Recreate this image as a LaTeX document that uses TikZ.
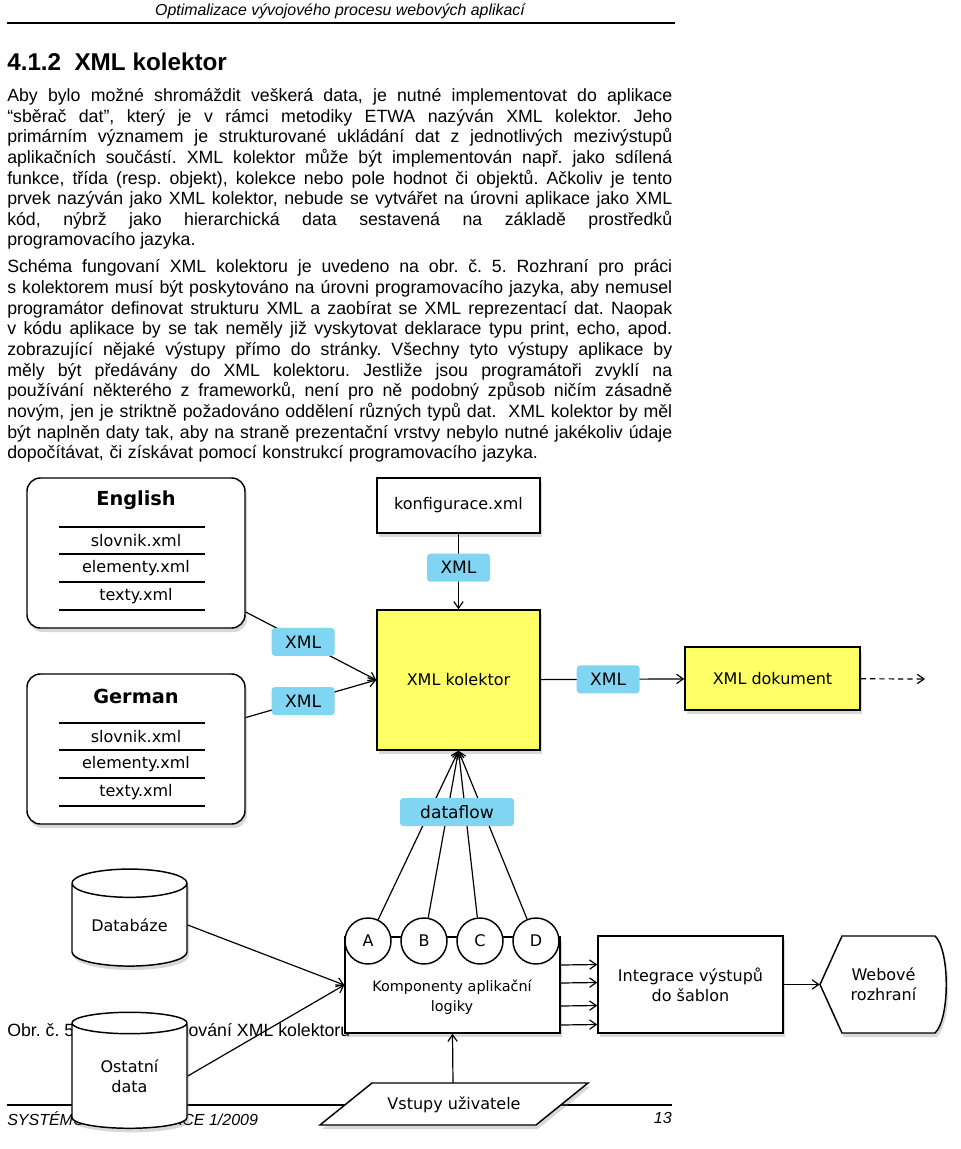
\documentclass[tikz,border=0pt]{standalone}
\usepackage{fontspec}
\setmainfont{Liberation Sans}
\newfontfamily\diafont{DejaVu Sans}
\usetikzlibrary{arrows.meta,positioning,shapes.geometric,shadows}
\definecolor{xmlblue}{RGB}{128,214,242}
\definecolor{kolyellow}{RGB}{255,255,102}
\newlength\pxu \setlength\pxu{0.75pt}
\newlength\colw \setlength\colw{498.75pt}
\newlength\natw
\newsavebox\linebox
% radek do bloku: roztazeni mezer nebo zuzeni
\newcommand\jline[2][\colw]{%
  \sbox\linebox{#2}%
  \setlength\natw{\wd\linebox}%
  \ifdim\natw>#1\relax
    \pgfmathsetmacro\lscale{#1/\natw}%
    \scalebox{\lscale}[1]{\usebox\linebox}%
  \else
    \hbox to #1{\spaceskip=\fontdimen2\font plus 1fil\relax #2}%
  \fi}
\frenchspacing
\begin{document}
\begin{tikzpicture}[x=0.75pt,y=-0.75pt,>={Straight Barb[length=5pt,width=7pt]},
  txt/.style={anchor=base west,inner sep=0pt,font=\fontsize{13.3}{16}\selectfont},
  box/.style={draw,line width=1.1pt,fill=white,inner sep=0pt,align=center,font=\diafont\fontsize{12}{15}\selectfont,
    drop shadow={shadow xshift=1.5pt,shadow yshift=-3pt,opacity=.3}},
  lbl/.style={fill=xmlblue,rounded corners=2.5pt,inner sep=0pt,minimum width=63\pxu,minimum height=28\pxu,font=\diafont\fontsize{12.8}{14}\selectfont},
  dia/.style={inner sep=0pt,align=center,font=\diafont\fontsize{12}{15}\selectfont},
  comp/.style={circle,draw,line width=1.1pt,fill=white,minimum size=46\pxu,inner sep=0pt,font=\diafont\fontsize{12}{14}\selectfont},
  conn/.style={->,line width=0.9pt}]
\useasboundingbox (0,0) rectangle (960,1149);
\fill[white] (0,0) rectangle (960,1149);
% zahlavi
\node[anchor=base,inner sep=0pt,font=\itshape\fontsize{11.9}{14}\selectfont] (hdr) at (340,16) {Optimalizace vývojového procesu webových aplikací};
\draw[line width=1.1pt] (7,23) -- (675,23);
\node[txt,font=\bfseries\fontsize{18.2}{22}\selectfont] (sec) at (7,70) {4.1.2\hspace{10pt}XML kolektor};
% prvni odstavec
\foreach \ln [count=\i from 0] in {%
  {Aby bylo možné shromáždit veškerá data, je nutné implementovat do aplikace},
  {“sběrač dat”, který je v rámci metodiky ETWA nazýván XML kolektor. Jeho},
  {primárním významem je strukturované ukládání dat z jednotlivých mezivýstupů},
  {aplikačních součástí. XML kolektor může být implementován např. jako sdílená},
  {funkce, třída (resp. objekt), kolekce nebo pole hodnot či objektů. Ačkoliv je tento},
  {prvek nazýván jako XML kolektor, nebude se vytvářet na úrovni aplikace jako XML},
  {kód, nýbrž jako hierarchická data sestavená na základě prostředků}}
  \node[txt] (pa\i) at (7,{101.7+20.6*\i}) {\jline{\ln}};
\node[txt] (pa7) at (7,245.9) {programovacího jazyka.};
% druhy odstavec
\foreach \ln [count=\i from 0] in {%
  {Schéma fungovaní XML kolektoru je uvedeno na obr. č. 5. Rozhraní pro práci},
  {s kolektorem musí být poskytováno na úrovni programovacího jazyka, aby nemusel},
  {programátor definovat strukturu XML a zaobírat se XML reprezentací dat. Naopak},
  {v kódu aplikace by se tak neměly již vyskytovat deklarace typu print, echo, apod.},
  {zobrazující nějaké výstupy přímo do stránky. Všechny tyto výstupy aplikace by},
  {měly být předávány do XML kolektoru. Jestliže jsou programátoři zvyklí na},
  {používání některého z frameworků, není pro ně podobný způsob ničím zásadně},
  {novým, jen je striktně požadováno oddělení různých typů dat.\ \ XML kolektor by měl},
  {být naplněn daty tak, aby na straně prezentační vrstvy nebylo nutné jakékoliv údaje}}
  \node[txt] (pb\i) at (7,{272.7+20.68*\i}) {\jline{\ln}};
\node[txt] (pb9) at (7,458.8) {\jline[398pt]{dopočítávat, či získávat pomocí konstrukcí programovacího jazyka.}};
% popisek a zapati
\node[txt] (cap) at (7,1036) {Obr. č. 5: Schéma fungování XML kolektoru};
\draw[line width=0.8pt] (7,1105) -- (672,1105);
\node[txt,font=\itshape\fontsize{12}{14}\selectfont] (ftl) at (7,1125) {SYSTÉMOVÁ INTEGRACE 1/2009};
\node[anchor=base east,inner sep=0pt,font=\itshape\fontsize{12}{14}\selectfont] (ftr) at (672,1123) {13};
% jazykove soubory
\foreach \nm/\ttl/\tp in {eng/English/478,ger/German/674}{
  \node[box,rounded corners=10pt,minimum width=218\pxu,minimum height=150\pxu] (\nm) at (136,{\tp+75}) {};
  \node[dia,font=\diafont\bfseries\fontsize{14.5}{17}\selectfont] (\nm-t) at (136,{\tp+22}) {\ttl};
  \foreach \dy in {49,76,104,132} \draw[line width=0.9pt] (59,{\tp+\dy}) -- (205,{\tp+\dy});
  \foreach \f [count=\k] in {slovnik,elementy,texty} \node[dia] (\nm-\k) at (136,{\tp+35+27.7*\k}) {\f.xml};
}
% kolektor
\node[box,fill=kolyellow,minimum width=163\pxu,minimum height=140\pxu] (kol) at (458.5,680) {XML kolektor};
\node[box,minimum width=163\pxu,minimum height=55\pxu] (konf) at (458.5,505.5) {konfigurace.xml};
\node[box,fill=kolyellow,minimum width=175\pxu,minimum height=63\pxu] (dok) at (772.5,678.5) {XML dokument};
\coordinate (dend) at (925,679);
\draw[conn] ([yshift=-44.25pt]eng.east) -- node[lbl,pos=.44] (x1) {XML} (kol.west);
\draw[conn] ([yshift=23.6pt]ger.east) -- node[lbl,pos=.44] (x2) {XML} (kol.west);
\draw[conn] (konf) -- node[lbl,pos=.45] (x3) {XML} (kol);
\draw[conn] (kol) -- node[lbl,pos=.47] (x4) {XML} (dok);
\draw[conn,dash pattern=on 4pt off 3pt] (dok) -- (dend);
% komponenty
\node[box,minimum width=215\pxu,minimum height=96\pxu] (kb) at (452.5,985) {};
\foreach \c/\x/\t in {ca/368/A,cb/424/B,cc/480/C,cd/536/D}
  \node[comp] (\c) at (\x,941) {\t};
\node[dia,font=\diafont\fontsize{10.8}{15}\selectfont] (kt) at (452,997) {Komponenty aplikační\\logiky};
\foreach \c in {ca,cb,cc,cd} \draw[conn] (\c) -- (kol.south);
\node[lbl,minimum width=114\pxu] (df) at (457,812) {dataflow};
% zdroje dat
\node[box,cylinder,shape border rotate=90,aspect=.37,minimum width=115\pxu,minimum height=97\pxu] (db) at (129.5,925) {Databáze};
\node[box,cylinder,shape border rotate=90,aspect=.37,minimum width=115\pxu,minimum height=116\pxu] (od) at (129.5,1076) {Ostatní\\data};
\draw[conn] (db.east) -- (kb.west);
\draw[conn] (od.east) -- (kb.west);
% vstupy
\draw[box] (320,1125) -- (372,1083) -- (588,1083) -- (536,1125) -- cycle;
\node[dia] (vst) at (454,1105) {Vstupy uživatele};
\coordinate (vtop) at (453,1083);
\draw[conn] (vtop) -- (kb.south);
% vystup
\node[box,minimum width=185\pxu,minimum height=97\pxu] (ib) at (690.5,984.5) {Integrace výstupů\\do šablon};
\foreach \dy in {15,1.5,-15.75,-30} \draw[conn] ([yshift=\dy pt]kb.east) -- ([yshift=\dy pt]ib.west);
\draw[box] (820,984.5) -- (842,936) -- (935,936) .. controls (950,950) and (950,1019) .. (935,1033) -- (842,1033) -- cycle;
\node[dia,minimum width=127\pxu] (web) at (883.5,984.5) {Webové\\rozhraní};
\draw[conn] (ib) -- (web);
\end{tikzpicture}
\end{document}
